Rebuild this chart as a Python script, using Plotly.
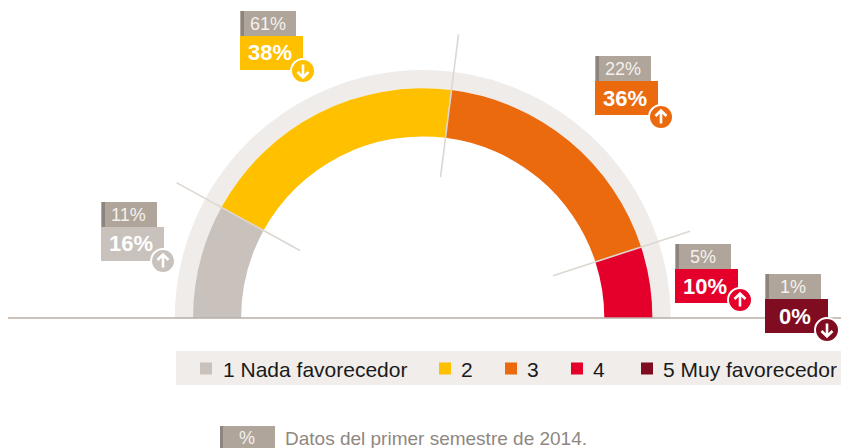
import numpy as np
import plotly.graph_objects as go

# ---------- data ----------
categories = ["1 Nada favorecedor", "2", "3", "4", "5 Muy favorecedor"]
current = [16, 38, 36, 10, 0]
previous = [11, 61, 22, 5, 1]
trend = ["up", "down", "up", "up", "down"]
colors = ["#C9C1BB", "#FFC000", "#EC6A0E", "#E4002B", "#7F0C20"]
footnote_unit = "%"
footnote = "Datos del primer semestre de 2014."

# ---------- layout constants (pixels) ----------
W, H = 841, 448
CX, CY = 422.7, 318
R_MAX = 300
R_IN, R_OUT, R_RING = 181.6, 229.7, 247.9
SEP_IN = [140, 142, 137]
SEP_OUT = [281, 286, 281]
GREY, GREY_DK = "#AFA59B", "#8D847D"
RING = "#EFECE9"
FONT = "Liberation Sans"
box_left = [101, 240, 595, 675, 765]
box_top = [202, 11, 56, 244, 274]
badge_x = [163, 303, 661, 740, 827]
badge_y = [261, 71, 117, 300, 330]
legend_sq = [200, 439, 505, 571, 641]
legend_tx = [222, 460, 526, 592, 662]


def px(x):
    return x / W


def py(y):
    return 1 - y / H


shapes, annotations = [], []


def rect(x0, y0, x1, y1, color):
    shapes.append(dict(type="rect", xref="paper", yref="paper", x0=px(x0), x1=px(x1),
                       y0=py(y1), y1=py(y0), fillcolor=color, line_width=0))


def text(x, y, s, size, color, anchor="left", bold=False):
    annotations.append(dict(xref="paper", yref="paper", x=px(x), y=py(y), text=f"<b>{s}</b>" if bold else s,
                            showarrow=False, xanchor=anchor, yanchor="middle", align=anchor,
                            borderpad=0, font=dict(family=FONT, size=size, color=color)))


def badge(cx, cy, color, direction):
    shapes.append(dict(type="circle", xref="paper", yref="paper", x0=px(cx - 12), x1=px(cx + 12),
                       y0=py(cy + 12), y1=py(cy - 12), fillcolor=color, line=dict(color="white", width=2)))
    s = -1 if direction == "up" else 1
    pts = [(cx, cy - s * 6.5), (cx, cy + s * 6.5)]
    head = [(cx - 5.5, cy + s * 1), (cx, cy + s * 6.5), (cx + 5.5, cy + s * 1)]
    to_path = lambda p: "M" + " L".join(f"{px(a):.5f},{py(b):.5f}" for a, b in p)
    shapes.append(dict(type="path", xref="paper", yref="paper", path=to_path(pts) + " " + to_path(head),
                       line=dict(color="white", width=2.6), fillcolor="rgba(0,0,0,0)"))


# ---------- gauge ----------
fig = go.Figure()
fig.add_trace(go.Barpolar(theta=[90], width=[180], base=[R_OUT], r=[R_RING - R_OUT],
                          marker=dict(color=RING, line_width=0), showlegend=False))
shares = np.array(current, dtype=float)
edges = np.concatenate([[0], np.cumsum(shares)]) / shares.sum() * 180
fig.add_trace(go.Barpolar(theta=(edges[:-1] + edges[1:]) / 2, width=edges[1:] - edges[:-1],
                          base=[R_IN] * len(current), r=[R_OUT - R_IN] * len(current),
                          marker=dict(color=colors, line_width=0), showlegend=False))
for e, r0, r1 in zip(edges[1:4], SEP_IN, SEP_OUT):
    fig.add_trace(go.Scatterpolar(theta=[e, e], r=[r0, r1], mode="lines",
                                  line=dict(color="#DDD7D1", width=1.6), showlegend=False))

# ---------- base line ----------
shapes.append(dict(type="line", xref="paper", yref="paper", x0=px(8), x1=1, y0=py(318), y1=py(318),
                   line=dict(color="#B9AEA5", width=1.6)))

# ---------- value boxes ----------
for cur, prev, tr, col, bx, by, ax, ay in zip(current, previous, trend, colors, box_left, box_top, badge_x, badge_y):
    rect(bx + 0.5, by, bx + 56, by + 25, GREY)
    rect(bx + 0.5, by, bx + 4, by + 25, GREY_DK)
    rect(bx, by + 25, bx + 63, by + 59, col)
    text(bx + 27.5, by + 13, f"{prev}%", 18, "#F4F1EE", "center")
    text(bx + 30, by + 42, f"{cur}%", 22, "white", "center", bold=True)
    badge(ax, ay, col, tr)

# ---------- legend band ----------
rect(176, 351, 841, 385, "#F0EDEA")
for cat, col, sx, tx in zip(categories, colors, legend_sq, legend_tx):
    rect(sx, 362.5, sx + 12, 374.5, col)
    text(tx, 369, cat, 21, "#1A1A1A")

# ---------- footnote ----------
rect(220, 426, 275, 448, GREY)
rect(220, 426, 223, 448, GREY_DK)
text(247, 438, footnote_unit, 18, "#F4F1EE", "center")
text(284, 438, footnote, 19, "#8F8781")

fig.update_layout(
    width=W, height=H, autosize=False,
    margin=dict(l=0, r=0, t=0, b=0),
    paper_bgcolor="white", plot_bgcolor="white",
    shapes=shapes, annotations=annotations,
    polar=dict(
        domain=dict(x=[px(CX - R_MAX), px(CX + R_MAX)], y=[py(CY), py(CY - R_MAX)]),
        sector=[0, 180],
        bgcolor="rgba(0,0,0,0)",
        bargap=0,
        radialaxis=dict(visible=False, range=[0, R_MAX]),
        angularaxis=dict(visible=False, direction="clockwise", rotation=180, thetaunit="degrees"),
    ),
)
fig.write_html("out.html", config=dict(displayModeBar=False),
               default_width=f"{W}px", default_height=f"{H}px",
               post_script="document.body.style.margin='0';document.documentElement.style.overflow='hidden';")
